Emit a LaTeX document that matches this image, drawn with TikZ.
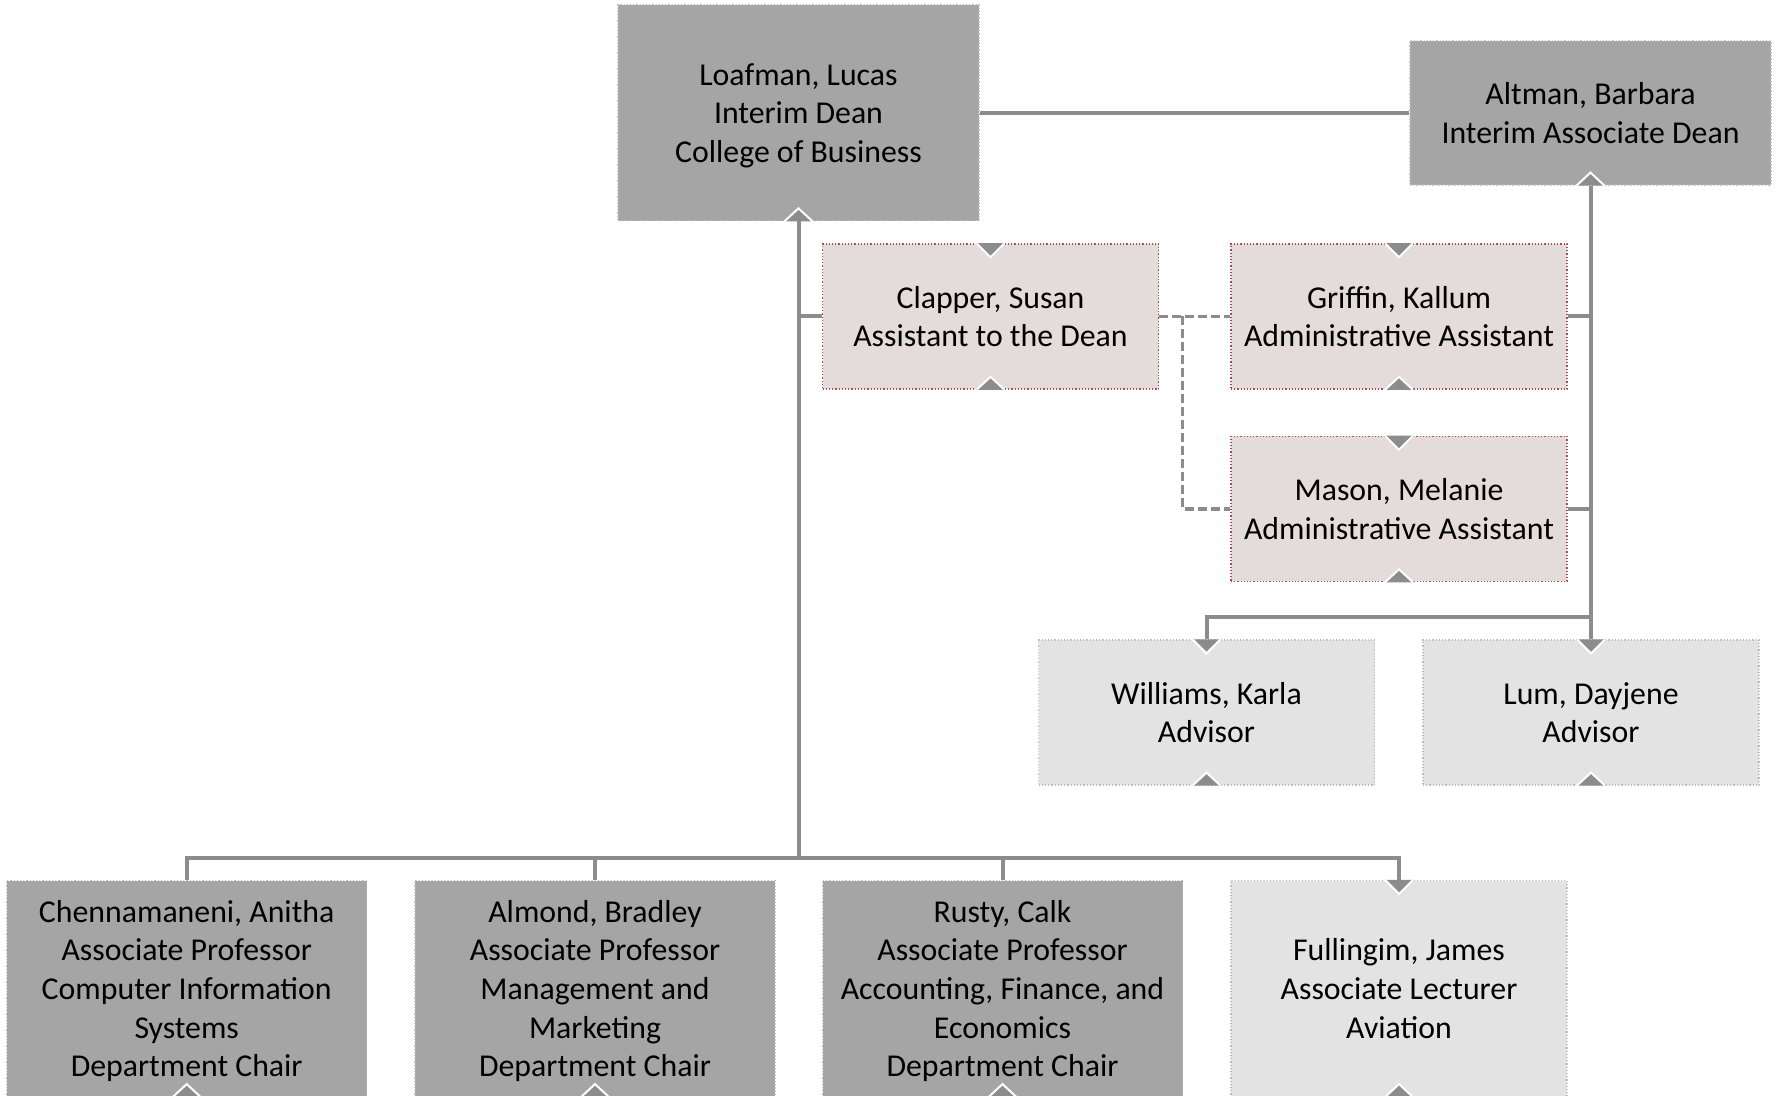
\documentclass[tikz,border=0pt]{standalone}
\usepackage{fontspec}
\setmainfont{Carlito}
\usepackage{tikz}
\usetikzlibrary{calc}
\usepackage{xcolor}
\definecolor{boxdark}{HTML}{A5A5A5}
\definecolor{boxlight}{HTML}{E3E3E3}
\definecolor{boxpink}{HTML}{E4DBDB}
\definecolor{edgepink}{HTML}{A94A50}
\definecolor{edgegray}{HTML}{BDBDBD}
\definecolor{linegray}{HTML}{8C8C8C}

\begin{document}
\begin{tikzpicture}[x=0.5pt,y=-0.5pt,
		person/.style={rectangle, align=center, inner sep=0pt, text depth=0pt, font=\fontsize{15.9}{19.3}\selectfont, line width=0.6pt, densely dotted},
		dark/.style={person, fill=boxdark, draw=edgegray},
		light/.style={person, fill=boxlight, draw=edgegray},
		pink/.style={person, fill=boxpink, draw=edgepink, line width=0.8pt},
		wide/.style={minimum width=180.5pt, minimum height=108pt},
		narrow/.style={minimum width=168pt, minimum height=72.5pt},
		link/.style={draw=linegray, line width=2pt},
		dotlink/.style={draw=linegray, line width=1.6pt, dash pattern=on 4.5pt off 2pt},
		notch/.style={fill=linegray}]
				\useasboundingbox (0,0) rectangle (1779,1096);
				\clip (0,0) rectangle (1779,1096);
				% top
				\node[dark, wide] (dean) at (798.5,112.75) {Loafman, Lucas\\Interim Dean\\College of Business};
				\node[dark, minimum width=180.5pt, minimum height=72pt] (altman) at (1590.5,113) {Altman, Barbara\\Interim Associate Dean};
				% staff
				\node[pink, narrow] (clapper) at (990.5,316.5) {Clapper, Susan\\Assistant to the Dean};
				\node[pink, narrow] (griffin) at (1399,316.5) {Griffin, Kallum\\Administrative Assistant};
				\node[pink, narrow] (mason) at (1399,509) {Mason, Melanie\\Administrative Assistant};
				\node[light, narrow] (williams) at (1206.5,712.5) {Williams, Karla\\Advisor};
				\node[light, narrow] (lum) at (1591,712.5) {Lum, Dayjene\\Advisor};
				% chairs
				\node[dark, wide, minimum width=180pt] (chenn) at (186.7,988.5) {Chennamaneni, Anitha\\Associate Professor\\Computer Information\\Systems\\Department Chair};
				\node[dark, wide, minimum width=180pt] (almond) at (595,988.5) {Almond, Bradley\\Associate Professor\\Management and\\Marketing\\Department Chair};
				\node[dark, wide, minimum width=180pt] (rusty) at (1002.5,988.5) {Rusty, Calk\\Associate Professor\\Accounting, Finance, and\\Economics\\Department Chair};
				\node[light, wide, minimum width=168pt] (fullingim) at (1399,988.5) {Fullingim, James\\Associate Lecturer\\Aviation};

				\coordinate (deanbus) at (798.5,857.5);
				\coordinate (advbus) at (1590.5,617);
				\coordinate (dashbr) at ($(clapper.east)!0.33!(griffin.west)$);

				\draw[link] (dean.east) -- (dean.east -| altman.west);
				\draw[link] (dean.south) -- (deanbus);
				\draw[link] (dean.south |- clapper.west) -- (clapper.west);
				\draw[link] (chenn.north) |- (deanbus) -| (fullingim.north);
				\draw[link] (almond.north) -- (almond.north |- deanbus);
				\draw[link] (rusty.north) -- (rusty.north |- deanbus);
				\draw[link] (altman.south) -- (altman.south |- lum.north);
				\draw[link] (griffin.east) -- (griffin.east -| altman.south);
				\draw[link] (mason.east) -- (mason.east -| altman.south);
				\draw[link] (advbus) -| (williams.north);
				\draw[dotlink] (clapper.east) -- (griffin.west);
				\draw[dotlink] (dashbr) |- (mason.west);

				% markers
				\foreach \n in {dean,altman,clapper,griffin,mason,williams,lum,chenn,almond,rusty,fullingim} {
					\fill[notch] ($(\n.south)+(-14,0)$) -- ($(\n.south)+(0,-13)$) -- ($(\n.south)+(14,0)$) -- cycle;
					\draw[white, line width=1pt] ($(\n.south)+(-14,0)$) -- ($(\n.south)+(0,-13)$) -- ($(\n.south)+(14,0)$);
				}
				\foreach \n in {clapper,griffin,mason,williams,lum,fullingim} {
					\fill[notch] ($(\n.north)+(-14,0)$) -- ($(\n.north)+(0,14)$) -- ($(\n.north)+(14,0)$) -- cycle;
					\draw[white, line width=1pt] ($(\n.north)+(-14,0)$) -- ($(\n.north)+(0,14)$) -- ($(\n.north)+(14,0)$);
				}
			\end{tikzpicture}
\end{document}
